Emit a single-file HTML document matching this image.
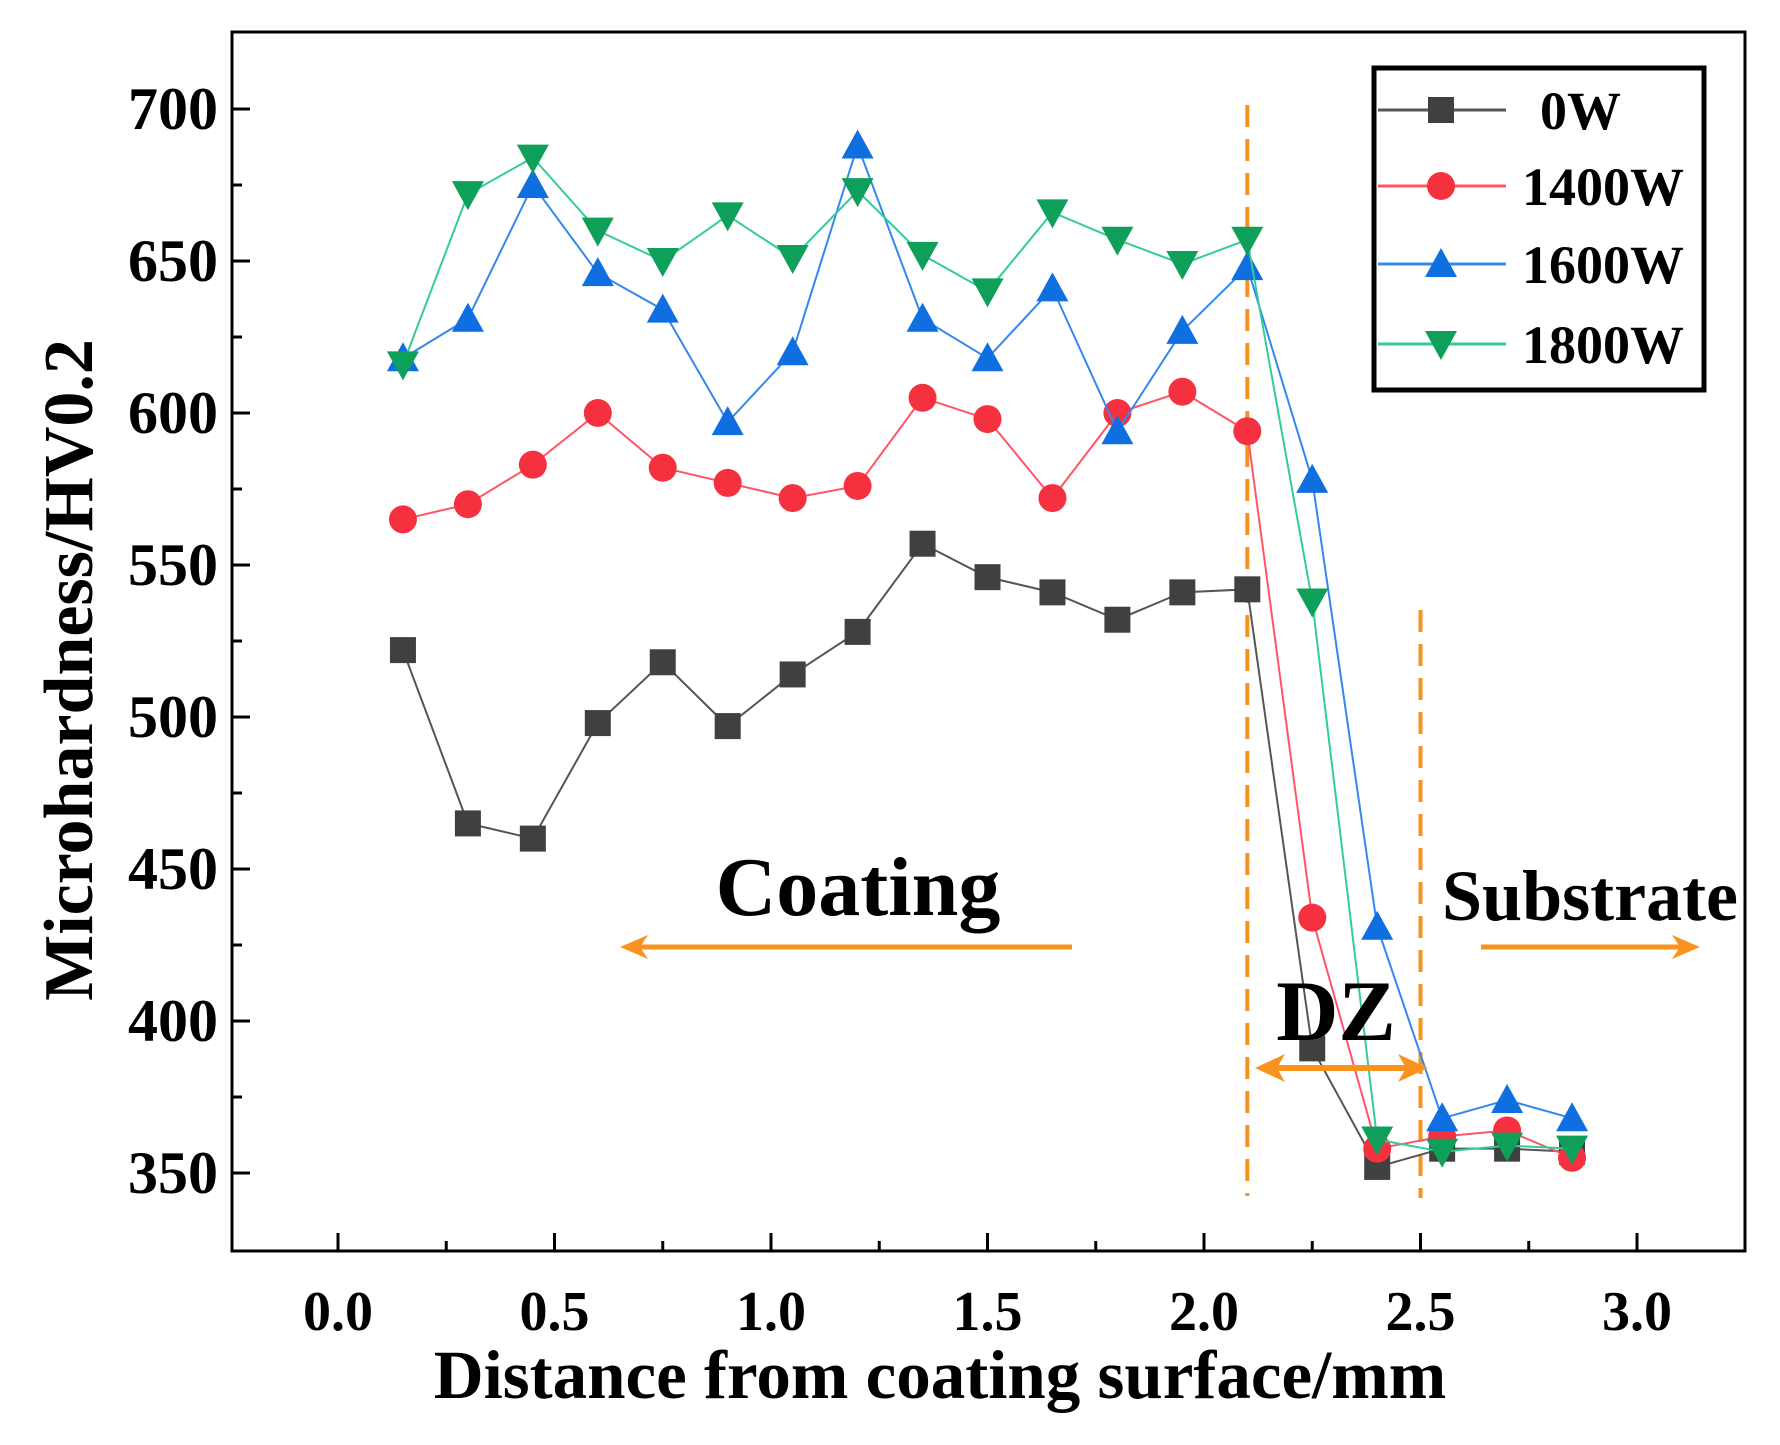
<!DOCTYPE html>
<html><head><meta charset="utf-8"><style>
html,body{margin:0;padding:0;background:#fff;}
svg text{font-family:"Liberation Serif",serif;font-weight:bold;fill:#000;}
</style></head><body>
<svg id="s" width="1780" height="1440" xmlns="http://www.w3.org/2000/svg">
<rect x="0" y="0" width="1780" height="1440" fill="#fff"/>
<g id="g"></g>
</svg>
<script>
const g=document.getElementById('g');
const X=v=>338+v*433, Y=v=>109+(700-v)*3.04;
let h='';
h+='<rect x="232" y="32" width="1513" height="1219" fill="none" stroke="#000" stroke-width="3"/>';
for(let i=0;i<=12;i++){const v=i*0.25,x=X(v);h+=`<line x1="${x}" y1="1251" x2="${x}" y2="${1251-(i%2?10:18)}" stroke="#000" stroke-width="3"/>`;
 if(i%2==0)h+=`<text x="${x}" y="1330" font-size="56" text-anchor="middle">${v.toFixed(1)}</text>`;}
for(let v=350;v<=700;v+=25){const y=Y(v);h+=`<line x1="232" y1="${y}" x2="${232+(v%50?10:18)}" y2="${y}" stroke="#000" stroke-width="3"/>`;
 if(v%50==0)h+=`<text x="218" y="${y+20}" font-size="60" text-anchor="end">${v}</text>`;}
h+='<text x="940" y="1398" font-size="69" text-anchor="middle">Distance from coating surface/mm</text>';
h+='<text transform="translate(92,670) rotate(-90)" font-size="70" text-anchor="middle">Microhardness/HV0.2</text>';
h+=`<line x1="${X(2.1)}" y1="105" x2="${X(2.1)}" y2="1196" stroke="#f7931e" stroke-width="4" stroke-dasharray="22,12"/>`;
h+=`<line x1="${X(2.5)}" y1="610" x2="${X(2.5)}" y2="1198" stroke="#f7931e" stroke-width="4" stroke-dasharray="22,12"/>`;
const d={
'#555':{m:'s',c:'#404040',v:[522,465,460,498,518,497,514,528,557,546,541,532,541,542,391,352,358,358,357]},
'#f56':{m:'c',c:'#f5313f',v:[565,570,583,600,582,577,572,576,605,598,572,600,607,594,434,358,362,364,355]},
'#3388ee':{m:'u',c:'#0f6fe0',v:[618,631,675,646,634,597,620,688,631,618,641,594,627,648,578,431,368,374,368]},
'#3c9':{m:'d',c:'#0ea05a',v:[616,672,684,660,650,665,651,673,652,640,666,657,649,657,538,361,357,359,358]}};
function mk(t,x,y,c){if(t=='s')return `<rect x="${x-13}" y="${y-13}" width="26" height="26" fill="${c}"/>`;
 if(t=='c')return `<circle cx="${x}" cy="${y}" r="14" fill="${c}"/>`;
 if(t=='u')return `<polygon points="${x},${y-16} ${x-16},${y+13} ${x+16},${y+13}" fill="${c}"/>`;
 return `<polygon points="${x},${y+16} ${x-16},${y-13} ${x+16},${y-13}" fill="${c}"/>`;}
for(const lc in d){const s=d[lc];const pts=s.v.map((v,i)=>[X(0.15*(i+1)),Y(v)]);
 h+=`<polyline points="${pts.map(p=>p.join(',')).join(' ')}" fill="none" stroke="${lc}" stroke-width="2"/>`;
 pts.forEach(p=>h+=mk(s.m,p[0],p[1],s.c));}
h+='<rect x="1374" y="68" width="330" height="322" fill="#fff" stroke="#000" stroke-width="5"/>';
const L=[['#555','s','#404040','0W',110,1540],['#f56','c','#f5313f','1400W',186,1522],['#3388ee','u','#0f6fe0','1600W',264,1522],['#3c9','d','#0ea05a','1800W',344,1522]];
L.forEach(e=>{h+=`<line x1="1378" y1="${e[4]}" x2="1506" y2="${e[4]}" stroke="${e[0]}" stroke-width="3"/>`+mk(e[1],1441,e[4],e[2])+`<text x="${e[5]}" y="${e[4]+19}" font-size="54">${e[3]}</text>`;});
const o='#f7931e';
h+='<text x="858" y="915" font-size="84" text-anchor="middle">Coating</text>';
h+=`<line x1="1072" y1="947" x2="640" y2="947" stroke="${o}" stroke-width="5"/><polygon points="620,947 648,935 640,947 648,959" fill="${o}"/>`;
h+='<text x="1590" y="920" font-size="72" text-anchor="middle">Substrate</text>';
h+=`<line x1="1481" y1="947" x2="1680" y2="947" stroke="${o}" stroke-width="5"/><polygon points="1700,947 1672,935 1680,947 1672,959" fill="${o}"/>`;
h+='<text x="1336" y="1040" font-size="86" text-anchor="middle">DZ</text>';
h+=`<line x1="1275" y1="1068" x2="1408" y2="1068" stroke="${o}" stroke-width="6"/><polygon points="1255,1068 1285,1054 1277,1068 1285,1082" fill="${o}"/><polygon points="1428,1068 1398,1054 1406,1068 1398,1082" fill="${o}"/>`;
g.innerHTML=h;
</script>
</body></html>
